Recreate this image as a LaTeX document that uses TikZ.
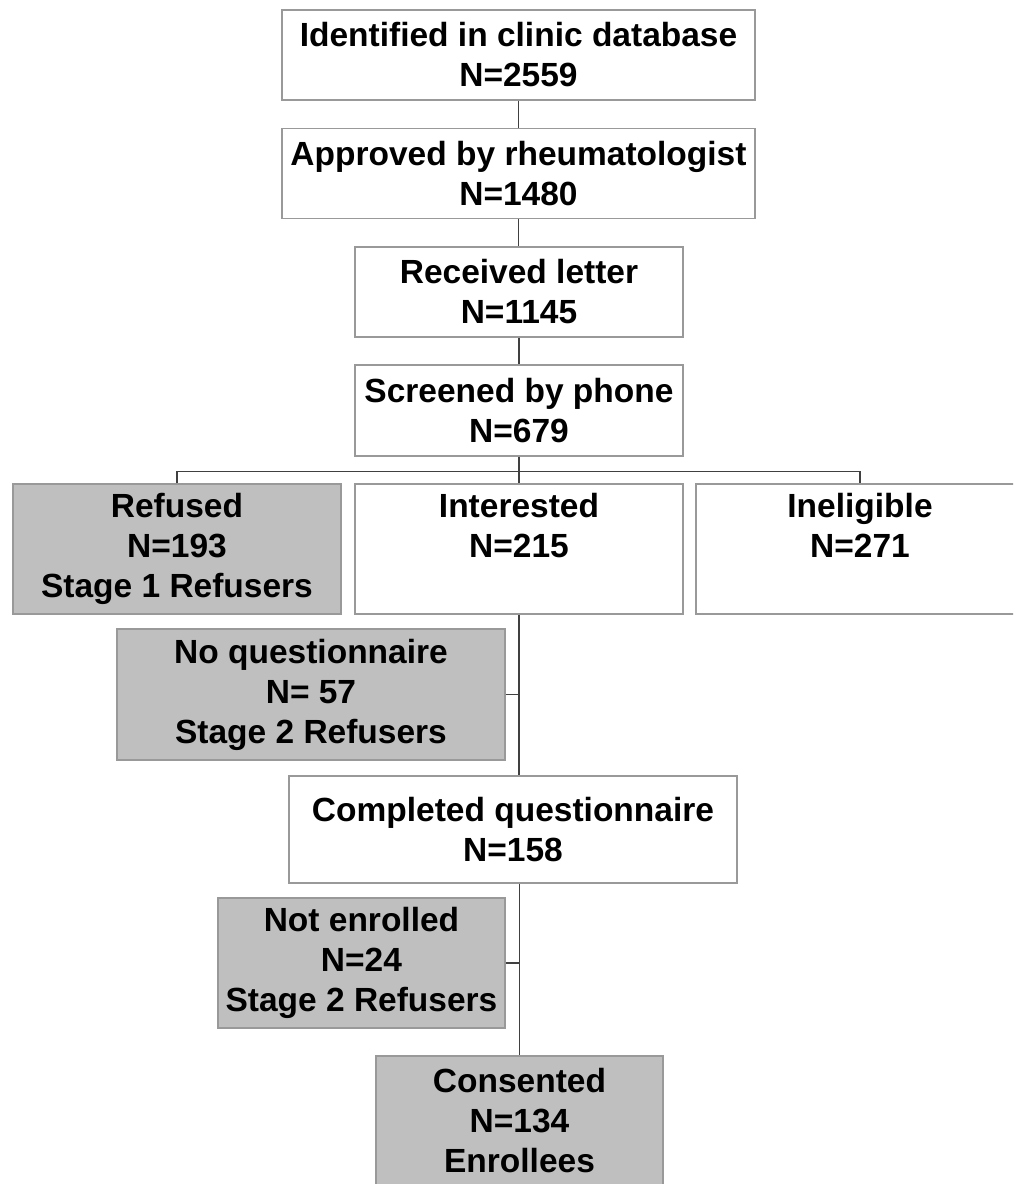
\documentclass[tikz,border=0pt]{standalone}
\usepackage{fontspec}
\setmainfont{Liberation Sans}
\usepackage{tikz}
\usetikzlibrary{positioning, calc}

\begin{document}
\begin{tikzpicture}[
  x=1pt, y=-1pt,
  font=\bfseries\fontsize{33.5}{40}\selectfont,
  box/.style={draw=black!40, line width=1.3pt, fill=white, align=center,
    inner sep=0pt, minimum width=#1},
  box/.default=328,
  grey/.style={box=#1, fill=black!25},
  grey/.default=328,
  link/.style={draw=black!75, line width=1.2pt},
]
  \clip (0, 0) rectangle (1013, 1184);

  % Recruitment chain
  \node[box=473, minimum height=90] (id)   at (518.5, 55)    {Identified in clinic database\\N=2559};
  \node[box=473, minimum height=90] (appr) at (518.5, 173.5) {Approved by rheumatologist\\N=1480};
  \node[box, minimum height=90]     (let)  at (519, 292)     {Received letter\\N=1145};
  \node[box, minimum height=91]     (scr)  at (519, 410.5)   {Screened by phone\\N=679};

  % Phone screening outcomes
  \node[grey, minimum height=130] (ref)  at (177, 549) {Refused\\N=193\\Stage 1 Refusers};
  \node[box, minimum height=130]  (int)  at (519, 549) {Interested\\N=215\\[-4pt]\strut};
  \node[box, minimum height=130]  (inel) at (860, 549) {Ineligible\\N=271\\[-4pt]\strut};

  % Questionnaire and consent
  \node[grey=388, minimum height=131] (noq)    at (311, 694.5)   {No questionnaire\\N= 57\\Stage 2 Refusers};
  \node[box=448, minimum height=107]  (comp)   at (513, 829.5)   {Completed questionnaire\\N=158};
  \node[grey=287, minimum height=130] (notenr) at (361.5, 963)   {Not enrolled\\N=24\\Stage 2 Refusers};
  \node[grey=287, minimum height=130] (cons)   at (519.5, 1121)  {Consented\\N=134\\Enrollees};

  % Connectors
  \foreach \a/\b in {id/appr, appr/let, let/scr}
    \draw[link] (\a.south) -- (\a.south |- \b.north);

  \coordinate (split) at ($(scr.south)+(0, 15)$);
  \draw[link] (scr.south) -- (split);
  \draw[link] (ref.north) |- (split) -| (inel.north);
  \draw[link] (split) -- (int.north);

  \draw[link] (int.south) -- (int.south |- comp.north);
  \draw[link] (noq.east) -- (noq.east -| int.south);

  \draw[link] (comp.south -| cons.north) -- (cons.north);
  \draw[link] (notenr.east) -- (notenr.east -| cons.north);
\end{tikzpicture}
\end{document}
